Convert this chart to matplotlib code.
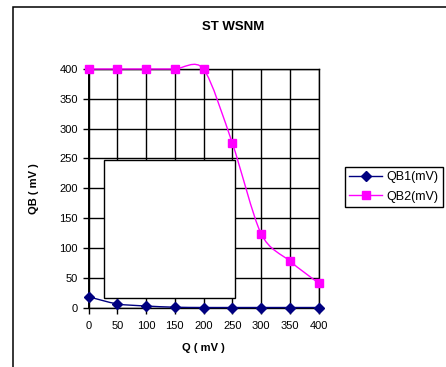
import matplotlib
matplotlib.use("Agg")
import matplotlib.pyplot as plt
from matplotlib.path import Path
from matplotlib.patches import PathPatch, Rectangle
from matplotlib.lines import Line2D

plt.rcParams['font.family'] = ['Liberation Sans', 'DejaVu Sans']

# ---- data ----
q_values = [0, 50, 100, 150, 200, 250, 300, 350, 400]
qb1_values = [18, 6, 2.5, 0.5, 0, 0, 0, 0, 0]
qb2_values = [400, 400, 400, 400, 400, 276, 124, 78, 41]
series_names = ["QB1(mV)", "QB2(mV)"]
x_ticks = [0, 50, 100, 150, 200, 250, 300, 350, 400]
y_ticks = [0, 50, 100, 150, 200, 250, 300, 350, 400]
title_text = "ST WSNM"
x_label = "Q ( mV )"
y_label = "QB ( mV )"

W, H = 446, 367
fig = plt.figure(figsize=(W / 100, H / 100), dpi=100)

# outer chart frame
fig.patches.append(Rectangle((13 / W, -0.2), 1.2, 1 - 7 / H + 0.2,
                             transform=fig.transFigure, fill=False,
                             edgecolor='black', linewidth=1.1, zorder=0))

ax = fig.add_axes([88.5 / W, 59.5 / H, 230 / W, 238.5 / H])
ax.set_xlim(0, 400)
ax.set_ylim(0, 400)
ax.set_xticks(x_ticks)
ax.set_yticks(y_ticks)
ax.tick_params(axis='both', direction='out', length=4, width=1, color='black',
               labelsize=8)
ax.tick_params(axis='x', pad=5.5)
ax.tick_params(axis='y', pad=3.5)
ax.grid(True, color='black', linewidth=1)
ax.set_axisbelow(True)
for s in ax.spines.values():
    s.set_color('black')
    s.set_linewidth(1)
ax.spines['left'].set_linewidth(1.4)


def smooth_path(xs, ys, k=1 / 7):
    verts = [(xs[0], ys[0])]
    codes = [Path.MOVETO]
    n = len(xs)
    for i in range(n - 1):
        x0, y0 = xs[max(i - 1, 0)], ys[max(i - 1, 0)]
        x1, y1 = xs[i], ys[i]
        x2, y2 = xs[i + 1], ys[i + 1]
        x3, y3 = xs[min(i + 2, n - 1)], ys[min(i + 2, n - 1)]
        c1 = (x1 + (x2 - x0) * k, y1 + (y2 - y0) * k)
        c2 = (x2 - (x3 - x1) * k, y2 - (y3 - y1) * k)
        verts += [c1, c2, (x2, y2)]
        codes += [Path.CURVE4] * 3
    return Path(verts, codes)


c1, c2 = '#000080', '#FF00FF'
ax.add_patch(PathPatch(smooth_path(q_values, qb1_values), fill=False,
                       edgecolor=c1, linewidth=1, zorder=3, clip_on=False))
ax.add_patch(PathPatch(smooth_path(q_values, qb2_values), fill=False,
                       edgecolor=c2, linewidth=1, zorder=3, clip_on=False))
ax.plot(q_values, qb1_values, linestyle='none', marker='D', markersize=5,
        color=c1, zorder=4, clip_on=False)
ax.plot(q_values, qb2_values, linestyle='none', marker='s', markersize=6,
        color=c2, zorder=4, clip_on=False)

# blank white box overlay
ax.add_patch(Rectangle((104 / W, 1 - 298 / H), 131 / W, 138 / H,
                       transform=fig.transFigure, facecolor='white',
                       edgecolor='black', linewidth=1, zorder=2, clip_on=False))

ax.set_xlabel(x_label, fontsize=8, fontweight='bold')
ax.set_ylabel(y_label, fontsize=8, fontweight='bold')
ax.xaxis.set_label_coords(0.5, -0.15)
ax.yaxis.set_label_coords(-0.215, 0.5)

fig.text(233 / W, 1 - 27 / H, title_text, ha='center', va='center',
         fontsize=9.5, fontweight='bold')

handles = [Line2D([], [], color=c1, marker='D', markersize=5, linewidth=1),
           Line2D([], [], color=c2, marker='s', markersize=6, linewidth=1)]
leg = fig.legend(handles, series_names, loc='upper left',
                 bbox_to_anchor=(345 / W, 1 - 167 / H), borderaxespad=0,
                 fontsize=9, frameon=True, fancybox=False, framealpha=1,
                 edgecolor='black', handlelength=2.6, handletextpad=0.35,
                 labelspacing=0.6, borderpad=0.35)
leg.get_frame().set_linewidth(1)

fig.savefig('out.png', dpi=100)
